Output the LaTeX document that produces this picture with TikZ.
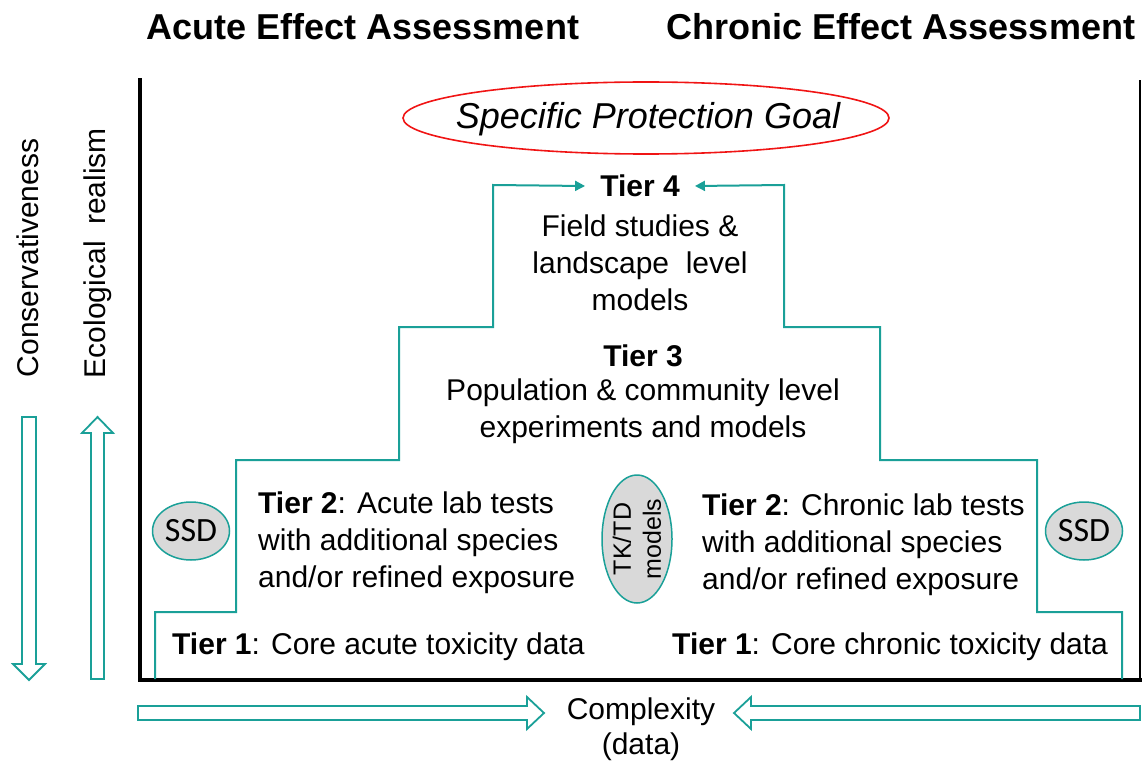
\documentclass[tikz,border=0pt]{standalone}
\usepackage{fontspec}
\setmainfont{Liberation Sans}
\newfontfamily\calib{Carlito}
\usetikzlibrary{arrows.meta,shapes.geometric}
\definecolor{teal1}{RGB}{26,160,152}
\definecolor{ssdgray}{RGB}{217,217,217}
\definecolor{spgred}{RGB}{240,20,20}
\begin{document}
\begin{tikzpicture}[x=1pt,y=-1pt,
  body/.style={font=\fontsize{30}{37}\selectfont, inner sep=0pt},
  header/.style={font=\fontsize{36}{40}\selectfont\bfseries, inner sep=0pt},
  stair/.style={draw=teal1, line width=2pt, -{Triangle[length=10pt,width=10pt]}},
  hollow/.style={draw=teal1, line width=1.8pt, fill=white, line join=miter},
  ssd/.style={ellipse, draw=teal1, line width=1.5pt, fill=ssdgray, inner sep=0pt,
     minimum width=77pt, minimum height=58pt, font=\calib\fontsize{34}{36}\selectfont},
  frame/.style={draw=black, line width=4.5pt}
]
\useasboundingbox (0,0) rectangle (1142,762);

% headers
\node[header] (hA) at (363,27) {Acute Effect Assessment};
\node[header] (hC) at (901,27) {Chronic Effect Assessment};

% frame
\coordinate (fTL) at (140,80);
\coordinate (fBL) at (140,680);
\coordinate (fBR) at (1140,680);
\coordinate (fTR) at (1140,80);
\draw[frame, line cap=rect] (fTL) -- (fBL) -- (fBR);
\draw[draw=black, line width=2.5pt] (fBR) -- (fTR);

% specific protection goal
\node[inner sep=0pt, font=\fontsize{36}{40}\selectfont\itshape] (spg) at (648,119) {Specific Protection Goal};
\draw[draw=spgred, line width=1.6pt] (646,118) ellipse [x radius=243pt, y radius=36pt];

% tiers
\node[body, font=\fontsize{30}{37}\selectfont\bfseries, inner xsep=15pt] (t4) at (640,186) {Tier 4};
\node[body, align=center] (t4txt) at (640,263) {Field studies \&\\landscape\ \ level\\models};
\node[body, font=\fontsize{30}{37}\selectfont\bfseries] (t3) at (643,356) {Tier 3};
\node[body, align=center] (t3txt) at (643,411) {Population \& community level\\experiments and models};
\node[body, align=left, anchor=west] (t2a) at (258,543) {\textbf{Tier 2}: Acute lab tests\\with additional species\\and/or refined exposure};
\node[body, align=left, anchor=west] (t2c) at (702,545) {\textbf{Tier 2}: Chronic lab tests\\with additional species\\and/or refined exposure};
\node[body, anchor=west] (t1a) at (172,647) {\textbf{Tier 1}: Core acute toxicity data};
\node[body, anchor=west] (t1c) at (672,647) {\textbf{Tier 1}: Core chronic toxicity data};

% ellipses
\node[ssd] (ssdL) at (191,531) {SSD};
\node[ssd] (ssdR) at (1084,531) {SSD};
\node[ellipse, rotate=90, draw=teal1, line width=1.5pt, fill=ssdgray, inner sep=0pt,
      minimum width=128pt, minimum height=70pt, align=center,
      font=\fontsize{25}{30}\selectfont] (tktd) at (637,539) {TK/TD\\models};

% staircase
\coordinate (sL) at (155,679);
\coordinate (sR) at (1122,679);
\draw[stair] (sL) -- (155,612) -- (236,612) -- (236,460) -- (399,460) -- (399,327)
   -- (493,327) -- (493,185) -- (t4.west);
\draw[stair] (sR) -- (1122,612) -- (1037,612) -- (1037,460) -- (880,460) -- (880,327)
   -- (784,327) -- (784,185) -- (t4.east);

% side labels
\node[body, rotate=90] (cons) at (28,258) {Conservativeness};
\node[body, rotate=90] (eco) at (98,253) {Ecological\ \ realism};
\node[body, align=center, font=\fontsize{30}{35}\selectfont] (cplx) at (641,729) {Complexity\\(data)};

% hollow arrows
\draw[hollow] (22,417) -- (36,417) -- (36,664) -- (45,664) -- (29,680) -- (13,664) -- (22,664) -- cycle;
\draw[hollow] (91,679) -- (104,679) -- (104,433) -- (113,433) -- (97.5,417) -- (82,433) -- (91,433) -- cycle;
\draw[hollow] (138,706) -- (527,706) -- (527,697) -- (544,713) -- (527,729) -- (527,720) -- (138,720) -- cycle;
\draw[hollow] (1140,706) -- (751,706) -- (751,697) -- (734,713) -- (751,729) -- (751,720) -- (1140,720) -- cycle;
\end{tikzpicture}
\end{document}
